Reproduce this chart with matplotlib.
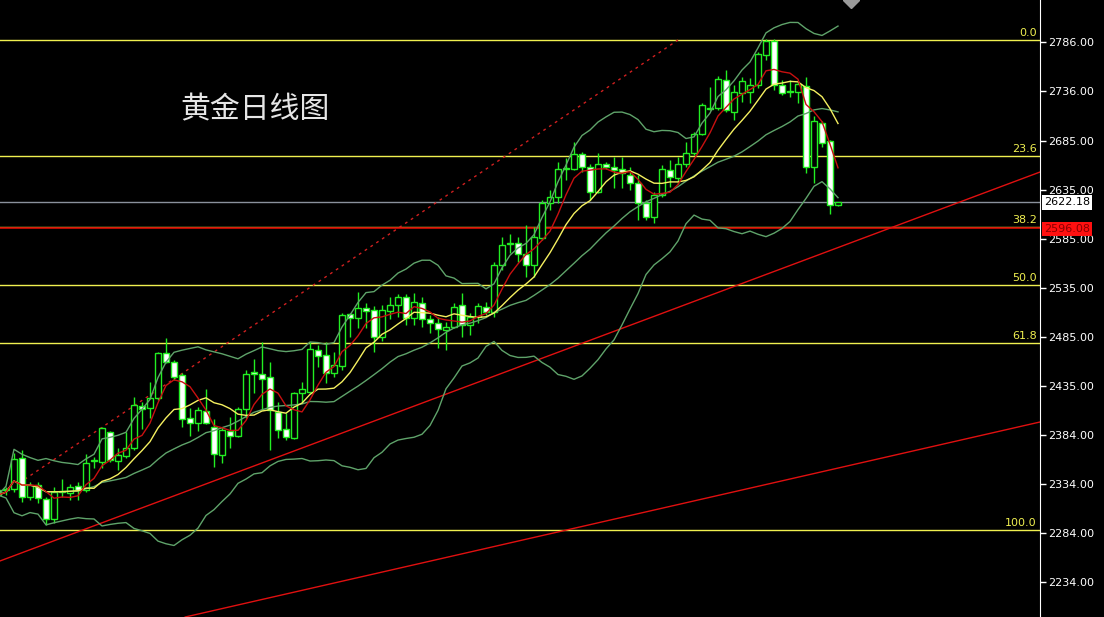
import numpy as np
import pandas as pd
import matplotlib
matplotlib.use("Agg")
import matplotlib.pyplot as plt
import matplotlib.transforms as mtransforms

# daily gold candles, oldest first
opens = [2328, 2328, 2329, 2361, 2321, 2333, 2319, 2299, 2326, 2325,
         2332, 2328, 2358, 2357, 2387, 2358, 2363, 2371, 2414, 2412,
         2422, 2468, 2459, 2446, 2402, 2397, 2409, 2393, 2364, 2388,
         2383, 2411, 2449, 2447, 2444, 2408, 2391, 2381, 2427, 2428,
         2471, 2466, 2448, 2455, 2508, 2504, 2514, 2512, 2485, 2511,
         2517, 2525, 2504, 2519, 2503, 2499, 2492, 2495, 2517, 2497,
         2505, 2515, 2510, 2558, 2580, 2581, 2569, 2558, 2586, 2622,
         2628, 2656, 2656, 2672, 2658, 2633, 2662, 2658, 2656, 2650,
         2642, 2622, 2607, 2630, 2655, 2647, 2662, 2673, 2692, 2719,
         2719, 2747, 2715, 2734, 2735, 2742, 2773, 2787, 2742, 2736,
         2735, 2741, 2658, 2703, 2685, 2620]
highs = [2331, 2331, 2366, 2369, 2336, 2336, 2321, 2331, 2339, 2334,
         2336, 2365, 2362, 2393, 2388, 2371, 2387, 2423, 2418, 2439,
         2469, 2484, 2461, 2448, 2412, 2413, 2431, 2401, 2393, 2403,
         2413, 2451, 2462, 2479, 2459, 2418, 2407, 2428, 2439, 2480,
         2476, 2479, 2469, 2509, 2509, 2531, 2519, 2516, 2517, 2526,
         2529, 2529, 2530, 2525, 2507, 2505, 2500, 2519, 2530, 2509,
         2519, 2520, 2561, 2587, 2590, 2587, 2599, 2597, 2625, 2635,
         2664, 2668, 2684, 2674, 2662, 2673, 2664, 2669, 2669, 2658,
         2650, 2625, 2633, 2660, 2666, 2669, 2684, 2694, 2724, 2740,
         2751, 2758, 2742, 2750, 2749, 2776, 2789, 2789, 2747, 2747,
         2746, 2750, 2711, 2705, 2686, 2623]
lows = [2318, 2323, 2326, 2316, 2318, 2315, 2292, 2294, 2321, 2318,
        2318, 2326, 2351, 2351, 2357, 2349, 2361, 2369, 2391, 2402,
        2420, 2458, 2441, 2393, 2383, 2388, 2396, 2352, 2356, 2371,
        2382, 2402, 2427, 2410, 2369, 2381, 2379, 2380, 2417, 2427,
        2454, 2438, 2444, 2451, 2485, 2494, 2494, 2469, 2481, 2503,
        2505, 2497, 2497, 2495, 2489, 2473, 2471, 2494, 2485, 2487,
        2499, 2507, 2505, 2553, 2570, 2561, 2546, 2546, 2584, 2614,
        2622, 2645, 2655, 2653, 2625, 2632, 2656, 2637, 2637, 2635,
        2604, 2604, 2601, 2628, 2638, 2641, 2658, 2671, 2691, 2717,
        2717, 2715, 2706, 2725, 2724, 2739, 2768, 2737, 2732, 2730,
        2724, 2652, 2642, 2679, 2610, 2619]
closes = [2323, 2329, 2360, 2321, 2333, 2320, 2299, 2326, 2327, 2331,
          2328, 2356, 2358, 2392, 2359, 2364, 2371, 2415, 2411, 2422,
          2468, 2459, 2444, 2401, 2397, 2410, 2397, 2365, 2390, 2383,
          2411, 2447, 2447, 2442, 2410, 2390, 2382, 2427, 2431, 2472,
          2465, 2448, 2456, 2507, 2504, 2514, 2511, 2485, 2512, 2517,
          2525, 2504, 2520, 2503, 2499, 2493, 2495, 2515, 2497, 2505,
          2516, 2510, 2558, 2579, 2581, 2569, 2558, 2587, 2622, 2628,
          2656, 2657, 2672, 2658, 2633, 2662, 2658, 2655, 2652, 2642,
          2622, 2607, 2630, 2656, 2648, 2662, 2673, 2692, 2722, 2718,
          2748, 2717, 2735, 2746, 2742, 2774, 2787, 2742, 2734, 2735,
          2743, 2658, 2705, 2683, 2620, 2622.18]

# price axis labels
y_ticks = [2786, 2736, 2685, 2635, 2585, 2535, 2485, 2435, 2384, 2334, 2284, 2234]

# fibonacci retracement
fib_high = 2788.3
fib_low = 2287.3
fib_ratios = [0.0, 23.6, 38.2, 50.0, 61.8, 100.0]

# horizontal marks
bid_price = 2622.18
support_price = 2596.08

# trend lines: (bar1, price1, bar2, price2)
trend_lines = [(0.25, 2255.6, 130.25, 2653.3),
               (23.4, 2198.3, 130.25, 2397.7)]
channel_line = (1.9, 2331.2, 85.0, 2788.3)

df = pd.DataFrame({"open": opens, "high": highs, "low": lows, "close": closes})
df["ma5"] = df["close"].rolling(5, min_periods=1).mean()
df["ma10"] = df["close"].rolling(10, min_periods=1).mean()
df["mid"] = df["close"].rolling(20, min_periods=1).mean()
sd = df["close"].rolling(20, min_periods=1).std(ddof=0)
df["up"] = df["mid"] + 2 * sd
df["dn"] = df["mid"] - 2 * sd
x = np.arange(len(df))

fig = plt.figure(figsize=(11.04, 6.17), dpi=100, facecolor="black")
ax = fig.add_axes([0, 0, 1040 / 1104, 1])
ax.set_facecolor("black")
ax.set_xlim(0.25, 130.25)
ax.set_ylim(2198.3, 2829.2)

# fib lines
fib_tr = mtransforms.blended_transform_factory(ax.transAxes, ax.transData)
for r in fib_ratios:
    lvl = fib_high - r / 100 * (fib_high - fib_low)
    ax.axhline(lvl, color="#f0f050", lw=1, zorder=1)
    ax.text(0.997, lvl + 2, "%.1f" % r, transform=fib_tr, ha="right", va="bottom",
            color="#f0f050", fontsize=8, zorder=6)

ax.axhline(bid_price, color="#8a919c", lw=1, zorder=1)
ax.axhline(support_price, color="#d00000", lw=1.2, zorder=2)

# trend lines
for x1, y1, x2, y2 in trend_lines:
    ax.plot([x1, x2], [y1, y2], color="#e01010", lw=1, zorder=2)
ax.plot([channel_line[0], channel_line[2]], [channel_line[1], channel_line[3]],
        color="#d02020", lw=1, ls=(0, (2, 3)), zorder=2)

# candles
bull = df["close"] >= df["open"]
ax.vlines(x, df["low"], df["high"], color="#22ee22", lw=1, zorder=3)
body_lo = np.minimum(df["open"], df["close"])
body_h = np.maximum(np.abs(df["close"] - df["open"]), 0.8)
ax.bar(x[bull], body_h[bull], bottom=body_lo[bull], width=0.64,
       facecolor="black", edgecolor="#22ee22", lw=1, zorder=4)
ax.bar(x[~bull], body_h[~bull], bottom=body_lo[~bull], width=0.64,
       facecolor="white", edgecolor="#22ee22", lw=1, zorder=4)

# indicators
bb_col = "#5fa36a"
ax.plot(x, df["up"], color=bb_col, lw=1, zorder=5)
ax.plot(x, df["mid"], color=bb_col, lw=1, zorder=5)
ax.plot(x, df["dn"], color=bb_col, lw=1, zorder=5)
ax.plot(x, df["ma10"], color="#f5f060", lw=1, zorder=5)
ax.plot(x, df["ma5"], color="#c81010", lw=1, zorder=5)

# small marker at top
ax.plot([106.6], [1.0], marker="D", color="#9a9a9a", markersize=8,
        transform=mtransforms.blended_transform_factory(ax.transData, ax.transAxes),
        clip_on=False, zorder=7)

ax.text(0.173, 0.822, "黄金日线图", transform=ax.transAxes, color="#e6e6e6",
        fontsize=21.5, va="center", ha="left",
        family=["Noto Sans CJK SC", "DejaVu Sans"])

# right price axis
ax.yaxis.tick_right()
ax.set_yticks(y_ticks)
ax.set_yticklabels(["%.2f" % t for t in y_ticks])
ax.tick_params(axis="y", colors="white", labelsize=8, length=4, width=1, pad=2)
ax.set_xticks([])
for s in ["left", "top", "bottom"]:
    ax.spines[s].set_visible(False)
ax.spines["right"].set_color("white")

ax.text(1.004, bid_price, "%.2f" % bid_price, transform=fib_tr, ha="left", va="center",
        color="black", fontsize=8, clip_on=False, zorder=8,
        bbox=dict(facecolor="white", edgecolor="none", pad=1.5))
ax.text(1.004, support_price - 1, "%.2f" % support_price, transform=fib_tr, ha="left",
        va="center", color="#8b0000", fontsize=8, clip_on=False, zorder=8,
        bbox=dict(facecolor="#ff1010", edgecolor="none", pad=1.5))

fig.savefig("out.png", dpi=100, facecolor="black")
